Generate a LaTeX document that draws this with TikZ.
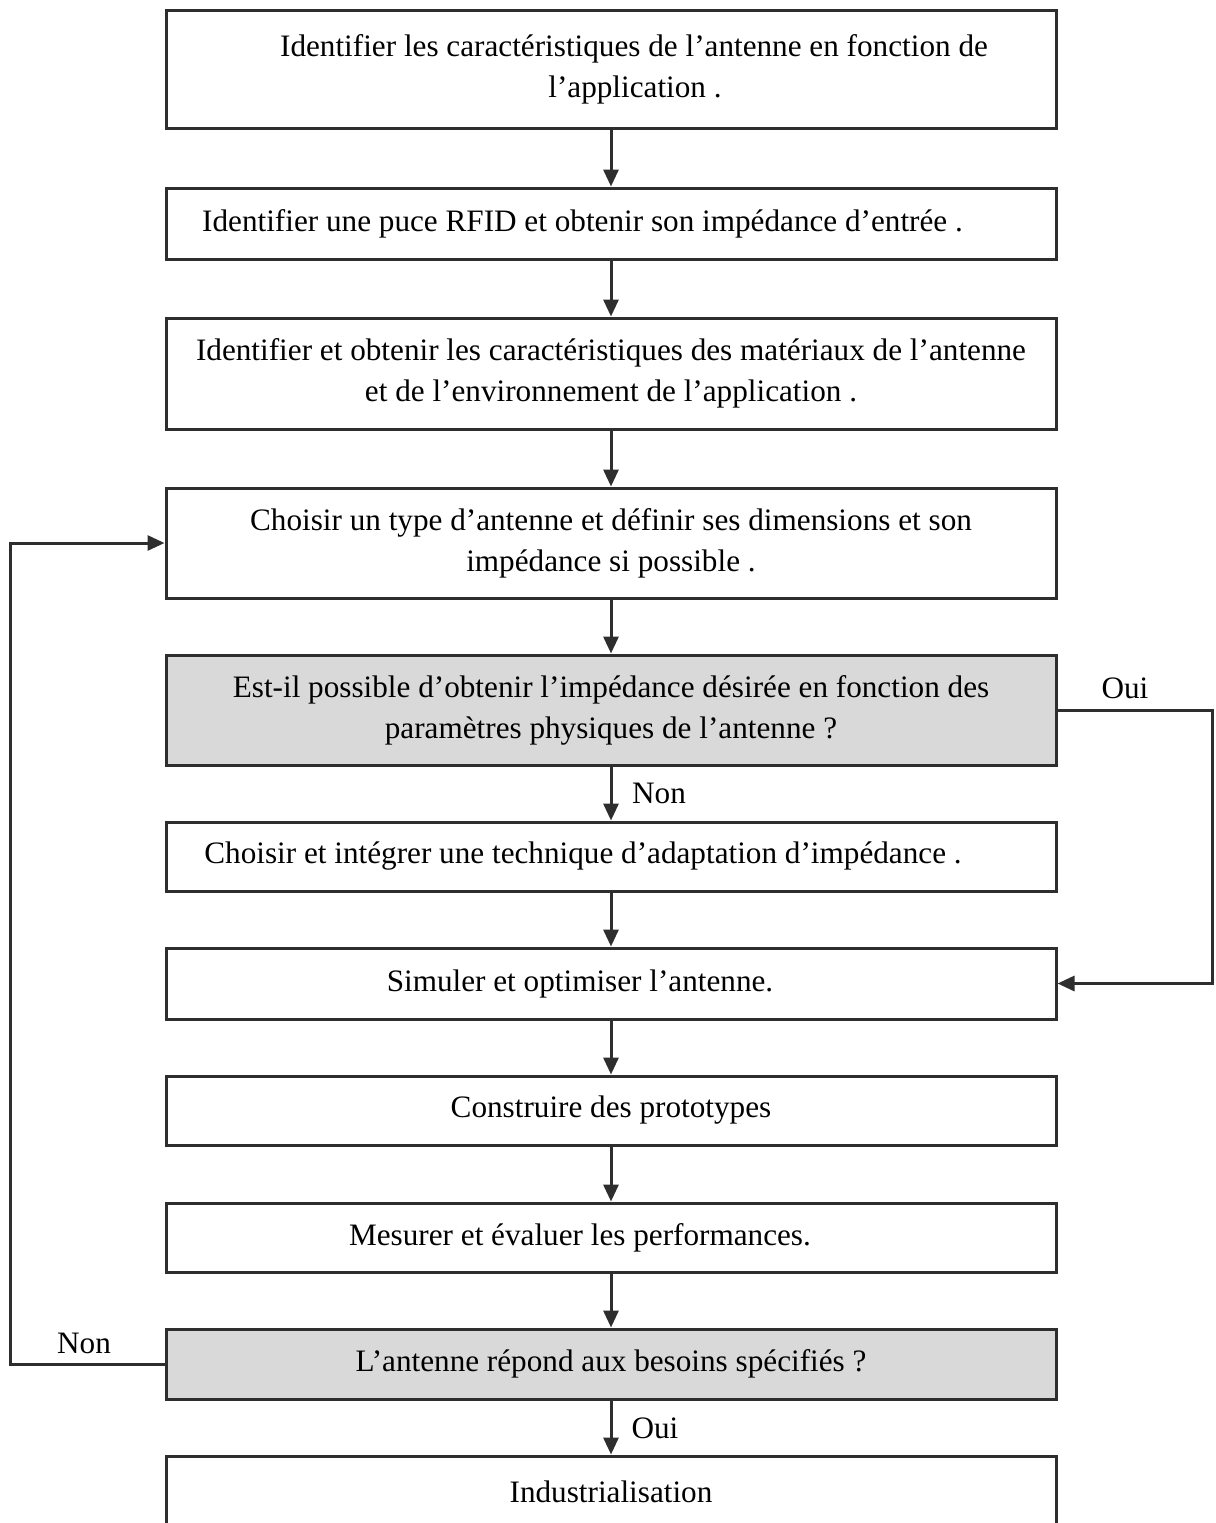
\documentclass[tikz,border=0pt]{standalone}
\usepackage{fontspec}
\setmainfont{Liberation Serif}
\usetikzlibrary{arrows.meta}
\definecolor{edge}{HTML}{2E2E2E}
\definecolor{decision}{HTML}{D9D9D9}
\tikzset{
  stepbox/.style={draw=edge, line width=1.5pt, rectangle, inner sep=0pt,
    minimum width=445pt, align=center, font=\fontsize{15.6}{20.5}\selectfont},
  testbox/.style={stepbox, fill=decision},
  flow/.style={draw=edge, line width=1.5pt, -{Triangle[length=8.5pt,width=7.5pt]}},
  branch/.style={font=\fontsize{15.6}{18}\selectfont, inner sep=0pt}
}
\begin{document}
\begin{tikzpicture}[x=0.5pt,y=-0.5pt]
\clip (0,0) rectangle (1216,1523);
\fill[white] (0,0) rectangle (1216,1523);

\node[stepbox, minimum height=59pt] (b1) at (611,69)
  {\hspace*{23pt}Identifier les caractéristiques de l’antenne en fonction de\\ \hspace*{24pt}l’application .};
\node[stepbox, minimum height=35.5pt] (b2) at (611,223.5)
  {Identifier une puce RFID et obtenir son impédance d’entrée .\hspace*{28.5pt}};
\node[stepbox, minimum height=55.5pt] (b3) at (611,373.5)
  {Identifier et obtenir les caractéristiques des matériaux de l’antenne\\ et de l’environnement de l’application .};
\node[stepbox, minimum height=55pt] (b4) at (611,543)
  {Choisir un type d’antenne et définir ses dimensions et son\\ impédance si possible .};
\node[testbox, minimum height=55pt] (b5) at (611,710)
  {Est-il possible d’obtenir l’impédance désirée en fonction des\\ paramètres physiques de l’antenne ?};
\node[stepbox, minimum height=34.5pt] (b6) at (611,856.5)
  {Choisir et intégrer une technique d’adaptation d’impédance .\hspace*{28pt}};
\node[stepbox, minimum height=35.5pt] (b7) at (611,983.5)
  {Simuler et optimiser l’antenne.\hspace*{31pt}};
\node[stepbox, minimum height=34.5pt] (b8) at (611,1110.5)
  {Construire des prototypes};
\node[stepbox, minimum height=34.5pt] (b9) at (611,1237.5)
  {Mesurer et évaluer les performances.\hspace*{31pt}};
\node[testbox, minimum height=35pt] (b10) at (611,1364)
  {L’antenne répond aux besoins spécifiés ?};
\node[stepbox, minimum height=36pt] (b11) at (611,1492)
  {Industrialisation};

% main sequence
\draw[flow] (b1) -- (b2);
\draw[flow] (b2) -- (b3);
\draw[flow] (b3) -- (b4);
\draw[flow] (b4) -- (b5);
\draw[flow] (b5) -- (b6);
\draw[flow] (b6) -- (b7);
\draw[flow] (b7) -- (b8);
\draw[flow] (b8) -- (b9);
\draw[flow] (b9) -- (b10);
\draw[flow] (b10) -- (b11);

% feedback and bypass loops
\draw[flow] (b10.west) -- ++(-154,0) |- (b4.west);
\draw[flow] (b5.east) -- ++(155,0) |- (b7.east);

% branch labels
\node[branch] (ouiA) at (1125,688) {Oui};
\node[branch] (nonA) at (659,793) {Non};
\node[branch] (nonB) at (84,1343) {Non};
\node[branch] (ouiB) at (655,1428) {Oui};
\end{tikzpicture}
\end{document}
